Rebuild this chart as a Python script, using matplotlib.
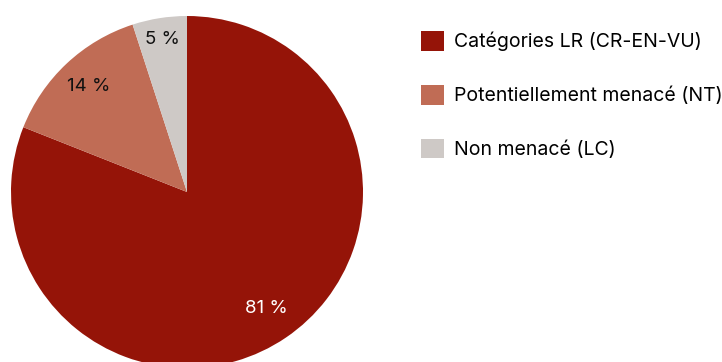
import numpy as np
import matplotlib
matplotlib.use("Agg")
import matplotlib.pyplot as plt
from matplotlib.patches import Patch

categories = ["Catégories LR (CR-EN-VU)", "Potentiellement menacé (NT)", "Non menacé (LC)"]
shares = [81, 14, 5]
pct_labels = ["81 %", "14 %", "5 %"]
colors = ["#951408", "#C06C55", "#CEC9C6"]
label_colors = ["white", "#111111", "#111111"]
label_dist = [0.80, 0.82, 0.88]

plt.rcParams['font.family'] = ['Inter', 'DejaVu Sans']

fig = plt.figure(figsize=(7.22, 3.62), dpi=100)
W, H = 722, 362
cx, cy, r = 187, 192, 176
ax = fig.add_axes([(cx - r) / W, (H - cy - r) / H, 2 * r / W, 2 * r / H])

wedges, _ = ax.pie(shares, colors=colors, startangle=90, counterclock=False,
                   radius=1, wedgeprops=dict(linewidth=0))
for w in wedges:
    w.set_clip_on(False)
ax.set_xlim(-1, 1)
ax.set_ylim(-1, 1)
ax.set_aspect('equal')
ax.axis('off')

# percentage labels placed at each wedge's mid angle
for w, txt, col, d in zip(wedges, pct_labels, label_colors, label_dist):
    mid = np.deg2rad((w.theta1 + w.theta2) / 2)
    ax.text(d * np.cos(mid), d * np.sin(mid), txt, ha='center', va='center',
            fontsize=13.5, color=col)

handles = [Patch(facecolor=c, edgecolor='none') for c in colors]
fig.legend(handles, categories, loc='upper left', bbox_to_anchor=(421 / W, 1 - 31 / H),
           frameon=False, fontsize=14, handlelength=1.18, handleheight=1.18,
           handletextpad=0.5, labelspacing=1.72, borderaxespad=0, borderpad=0)

fig.savefig("out.png", dpi=100)
